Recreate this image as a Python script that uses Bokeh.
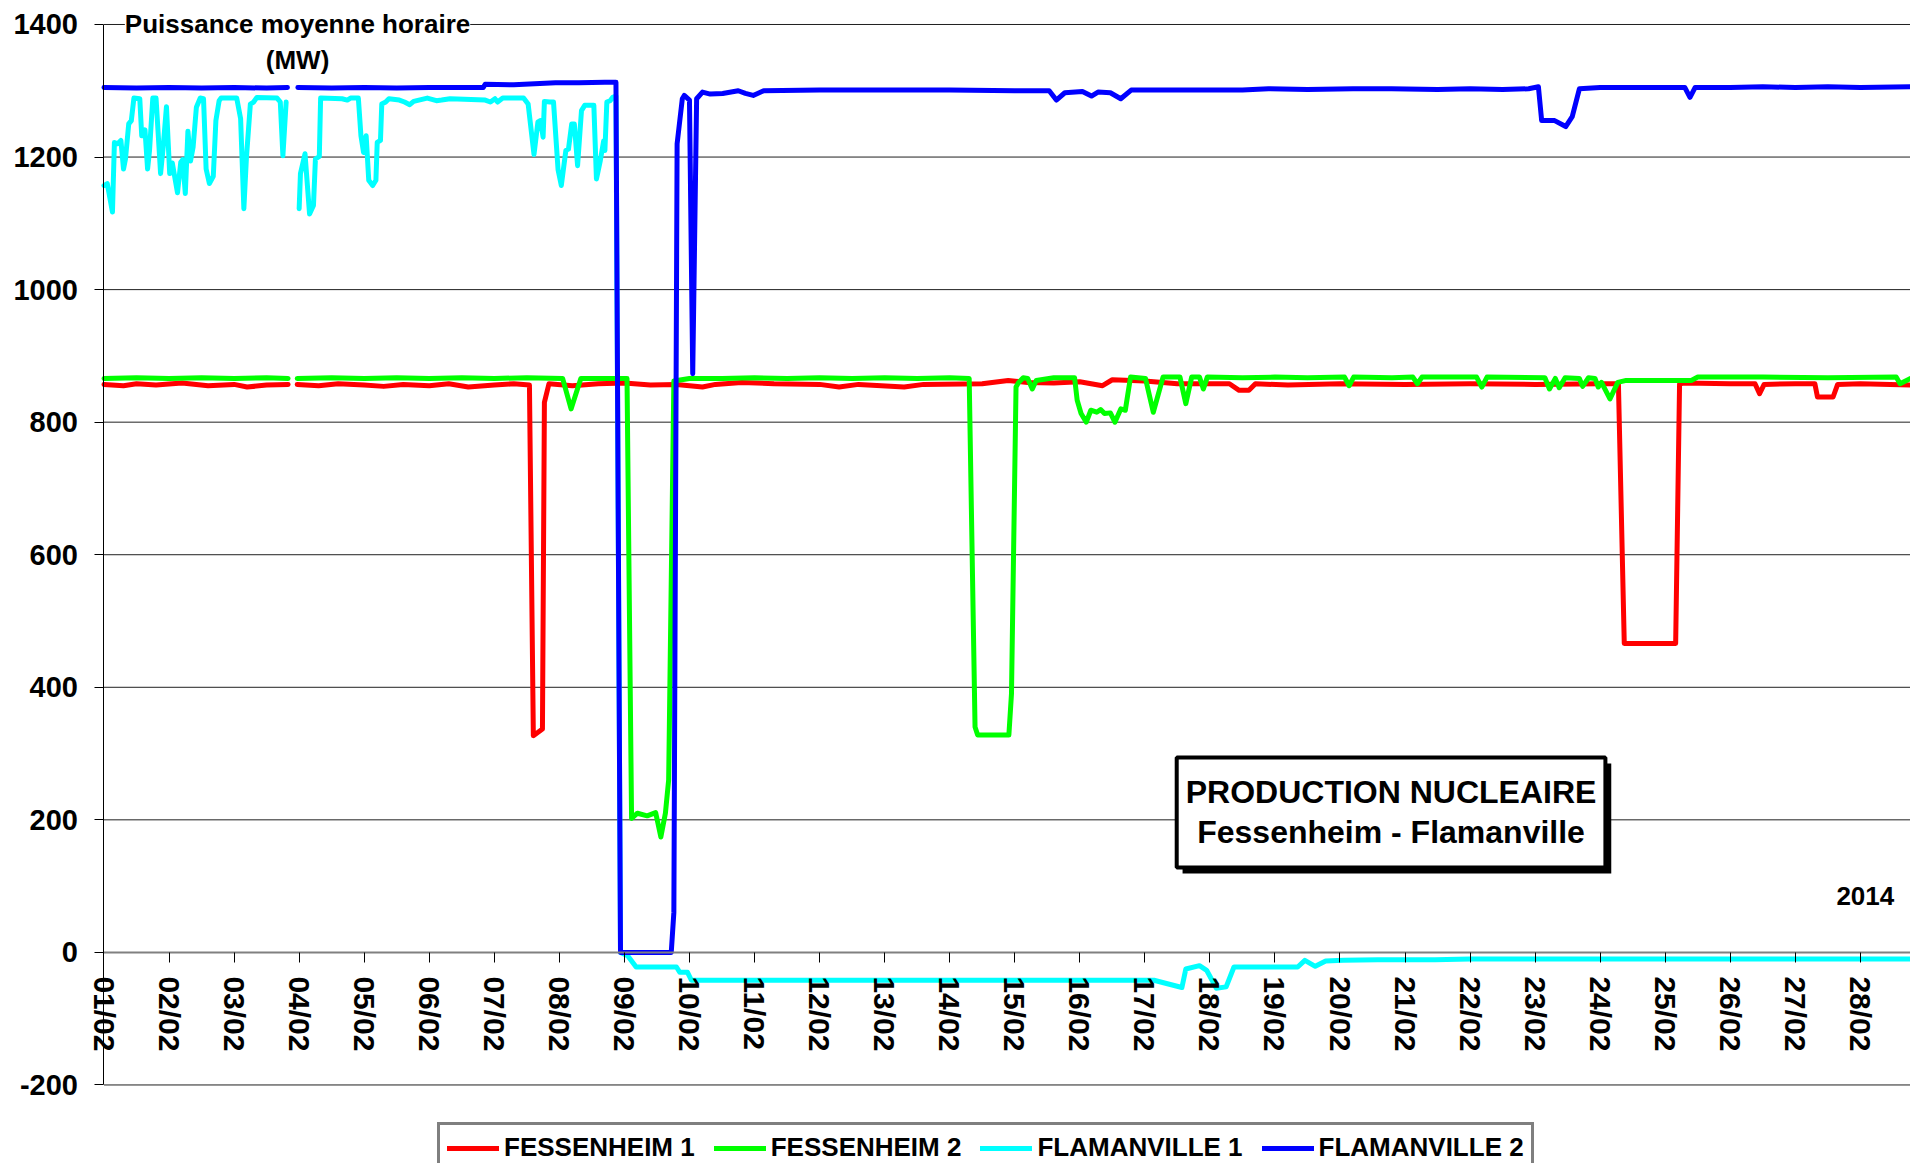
import numpy as np
from bokeh.plotting import figure
from bokeh.models import (Range1d, FixedTicker, LinearAxis, Label, BoxAnnotation,
                          Legend, LegendItem)
from bokeh.embed import file_html
from bokeh.resources import INLINE

nan = float("nan")

# ---------------- data (time in days since 01/02 00:00, power in MW) ----------------
x_labels = ["%02d/02" % d for d in range(1, 29)]
y_ticks = [-200, 0, 200, 400, 600, 800, 1000, 1200, 1400]
y_labels = ["-200", "0", "200", "400", "600", "800", "1000", "1200", "1400"]

f1_t = [0.0, 0.3, 0.5, 0.8, 1.2, 1.6, 2.0, 2.2, 2.5, 2.83,
        2.90, 2.97, 3.3, 3.6, 4.0, 4.3, 4.6, 5.0, 5.3, 5.6,
        6.0, 6.3, 6.54, 6.60, 6.74, 6.77, 6.84, 7.2, 7.6, 8.0,
        8.4, 8.8, 9.2, 9.4, 9.8, 10.3, 11.0, 11.3, 11.6, 12.3,
        12.6, 13.5, 13.9, 14.2, 14.6, 15.0, 15.35, 15.5, 16.0, 16.5,
        17.3, 17.45, 17.6, 17.7, 18.2, 19.0, 20.0, 21.0, 22.0, 23.0,
        23.28, 23.37, 24.16, 24.22, 24.3, 25.0, 25.38, 25.45, 25.52, 26.0,
        26.3, 26.34, 26.58, 26.65, 27.0, 27.77]
f1_v = [857, 855, 858, 856, 859, 855, 857, 853, 856, 857,
        nan, 857, 855, 858, 856, 854, 857, 855, 858, 853,
        856, 858, 856, 327, 337, 830, 858, 855, 858, 859,
        856, 857, 853, 857, 860, 858, 857, 853, 857, 853,
        857, 858, 863, 860, 859, 861, 855, 864, 862, 858,
        858, 848, 848, 858, 856, 858, 857, 858, 857, 858,
        858, 466, 466, 858, 859, 858, 858, 843, 857, 858,
        858, 838, 838, 857, 858, 856]

f2_t = [0.0, 0.5, 1.0, 1.5, 2.0, 2.5, 2.83, 2.90, 2.97, 3.5,
        4.0, 4.5, 5.0, 5.5, 6.0, 6.5, 7.05, 7.18, 7.33, 7.6,
        8.04, 8.11, 8.2, 8.35, 8.48, 8.56, 8.63, 8.68, 8.76, 9.0,
        9.5, 10.0, 10.5, 11.0, 11.5, 12.0, 12.5, 13.0, 13.3, 13.39,
        13.43, 13.91, 13.95, 14.02, 14.06, 14.13, 14.2, 14.27, 14.33, 14.6,
        14.92, 14.96, 15.02, 15.1, 15.17, 15.26, 15.32, 15.38, 15.47, 15.54,
        15.63, 15.70, 15.78, 16.01, 16.13, 16.28, 16.54, 16.63, 16.72, 16.84,
        16.90, 16.96, 17.5, 18.0, 18.5, 19.07, 19.14, 19.21, 19.8, 20.12,
        20.19, 20.26, 21.1, 21.18, 21.26, 22.15, 22.22, 22.31, 22.37, 22.46,
        22.68, 22.73, 22.82, 22.92, 22.97, 23.02, 23.15, 23.27, 23.4, 24.0,
        24.4, 24.5, 25.5, 26.5, 27.55, 27.61, 27.77]
f2_v = [866, 867, 866, 867, 866, 867, 866, nan, 866, 867,
        866, 867, 866, 867, 866, 867, 866, 820, 866, 866,
        866, 202, 210, 206, 211, 174, 210, 260, 862, 866,
        866, 867, 866, 867, 866, 867, 866, 867, 866, 340,
        328, 328, 390, 853, 860, 867, 866, 850, 863, 867,
        867, 833, 813, 800, 818, 815, 819, 813, 814, 800,
        820, 818, 868, 866, 815, 868, 868, 828, 868, 868,
        850, 868, 867, 868, 867, 868, 855, 868, 867, 868,
        858, 868, 868, 853, 868, 867, 850, 866, 852, 867,
        866, 854, 867, 866, 853, 860, 835, 860, 863, 863,
        863, 868, 868, 867, 868, 858, 866]

fl1_t = [0.0, 0.05, 0.13, 0.16, 0.21, 0.26, 0.30, 0.33, 0.38, 0.42,
         0.46, 0.55, 0.58, 0.63, 0.67, 0.70, 0.75, 0.80, 0.87, 0.91,
         0.96, 1.01, 1.05, 1.13, 1.18, 1.21, 1.25, 1.29, 1.33, 1.37,
         1.42, 1.48, 1.53, 1.57, 1.62, 1.68, 1.72, 1.77, 1.80, 2.04,
         2.10, 2.15, 2.19, 2.25, 2.30, 2.35, 2.66, 2.71, 2.75, 2.80,
         2.90, 3.00, 3.02, 3.09, 3.16, 3.22, 3.25, 3.31, 3.33, 3.66,
         3.74, 3.79, 3.91, 3.95, 3.99, 4.03, 4.07, 4.13, 4.18, 4.20,
         4.25, 4.27, 4.33, 4.38, 4.54, 4.62, 4.70, 4.76, 4.84, 4.97,
         5.11, 5.19, 5.32, 5.86, 5.94, 6.01, 6.05, 6.13, 6.45, 6.52,
         6.61, 6.67, 6.71, 6.75, 6.77, 6.85, 6.91, 6.98, 7.03, 7.10,
         7.14, 7.19, 7.23, 7.28, 7.34, 7.39, 7.53, 7.57, 7.63, 7.68,
         7.70, 7.73, 7.78, 7.82, 7.87, 7.94, 8.05, 8.18, 8.80, 8.85,
         8.97, 9.03, 16.14, 16.57, 16.63, 16.84, 16.95, 17.10, 17.25, 17.37,
         18.35, 18.46, 18.62, 18.78, 19.05, 19.58, 20.46, 21.00, 27.77]
fl1_v = [1157, 1160, 1117, 1222, 1220, 1225, 1182, 1197, 1250, 1255,
         1289, 1288, 1232, 1241, 1182, 1210, 1289, 1289, 1175, 1215,
         1276, 1175, 1191, 1146, 1192, 1196, 1145, 1239, 1194, 1215,
         1275, 1289, 1288, 1182, 1160, 1171, 1255, 1285, 1289, 1289,
         1258, 1122, 1200, 1280, 1283, 1290, 1289, 1283, 1202, 1283,
         nan, 1122, 1175, 1205, 1114, 1127, 1197, 1201, 1289, 1288,
         1286, 1289, 1289, 1232, 1207, 1232, 1165, 1157, 1165, 1222,
         1225, 1280, 1283, 1288, 1286, 1283, 1279, 1284, 1286, 1289,
         1285, 1286, 1288, 1286, 1283, 1288, 1283, 1289, 1289, 1280,
         1204, 1253, 1255, 1230, 1284, 1283, 1283, 1181, 1157, 1210,
         1212, 1250, 1250, 1187, 1270, 1278, 1278, 1167, 1195, 1224,
         1210, 1283, 1285, 1290, 1292, 0, -5, -22, -22, -30,
         -30, -42, -42, -53, -25, -20, -27, -54, -52, -22,
         -22, -12, -21, -13, -12, -11, -11, -10, -10]

fl2_t = [0.0, 0.5, 1.0, 1.5, 2.0, 2.5, 2.82, 2.90, 2.98, 3.5,
         4.0, 4.5, 5.0, 5.5, 5.83, 5.86, 6.3, 6.94, 7.3, 7.7,
         7.87, 7.94, 8.72, 8.76, 8.81, 8.89, 8.92, 9.0, 9.05, 9.11,
         9.2, 9.32, 9.51, 9.75, 9.86, 9.98, 10.14, 11.0, 12.0, 13.0,
         14.0, 14.53, 14.64, 14.77, 15.04, 15.18, 15.28, 15.47, 15.63, 15.79,
         16.5, 17.5, 17.9, 18.5, 19.2, 19.79, 20.5, 21.0, 21.5, 21.9,
         22.05, 22.1, 22.3, 22.47, 22.57, 22.68, 23.0, 23.5, 24.0, 24.3,
         24.38, 24.46, 25.0, 25.5, 26.0, 26.5, 27.0, 27.77]
fl2_v = [1305, 1304, 1305, 1304, 1305, 1304, 1305, nan, 1305, 1304,
         1305, 1304, 1305, 1305, 1305, 1310, 1309, 1312, 1312, 1313,
         1313, 0, 0, 60, 1220, 1288, 1293, 1286, 873, 1288,
         1298, 1295, 1296, 1300, 1296, 1293, 1300, 1301, 1301, 1301,
         1300, 1300, 1286, 1297, 1299, 1292, 1298, 1297, 1288, 1301,
         1301, 1301, 1303, 1302, 1303, 1303, 1302, 1303, 1302, 1303,
         1306, 1255, 1255, 1246, 1261, 1303, 1305, 1305, 1305, 1305,
         1290, 1305, 1305, 1306, 1305, 1306, 1305, 1306]

series_names = ["FESSENHEIM 1", "FESSENHEIM 2", "FLAMANVILLE 1", "FLAMANVILLE 2"]
series_colors = ["#FF0000", "#00FF00", "#00FFFF", "#0000FF"]

FONT = "Liberation Sans"
X0, X1 = -1.591, 27.77
Y0, Y1 = -318.5, 1436.2

p = figure(width=1910, height=1163, output_backend="svg", toolbar_location=None,
           x_range=Range1d(X0, X1), y_range=Range1d(Y0, Y1),
           x_axis_location=None, y_axis_location=None,
           min_border_left=0, min_border_right=0, min_border_top=0, min_border_bottom=0)
p.outline_line_color = None
p.background_fill_color = "white"
p.border_fill_color = "white"
p.grid.visible = False

# horizontal gridlines, limited to the plotting area (x >= 0)
grid_vals = [t for t in y_ticks if t != 0]
p.segment(x0=0, x1=X1, y0=grid_vals, y1=grid_vals,
          line_color="#202020", line_width=1, level="underlay")

# y axis drawn at x = 0
ya = LinearAxis(fixed_location=0, bounds=(-200, 1400),
                ticker=FixedTicker(ticks=y_ticks),
                major_label_overrides={t: lab for t, lab in zip(y_ticks, y_labels)},
                major_tick_out=9, major_tick_in=0, minor_tick_out=0, minor_tick_in=0,
                axis_line_color="black", axis_line_width=1,
                major_tick_line_color="black", major_label_standoff=17,
                major_label_text_font=FONT, major_label_text_font_style="bold",
                major_label_text_font_size="29px", major_label_text_color="black")
p.add_layout(ya, "left")

# x axis drawn at y = 0
xa = LinearAxis(fixed_location=0, bounds=(0, X1),
                ticker=FixedTicker(ticks=list(range(len(x_labels)))),
                major_label_overrides={i: lab for i, lab in enumerate(x_labels)},
                major_label_orientation="vertical",
                major_tick_out=10, major_tick_in=0,
                minor_tick_out=0, minor_tick_in=0,
                axis_line_color="#808080", axis_line_width=2,
                major_tick_line_color="black",
                major_label_standoff=14,
                major_label_text_font=FONT,
                major_label_text_font_style="bold",
                major_label_text_font_size="30px",
                major_label_text_color="black")
p.add_layout(xa, "below")

# lines
renderers = []
for t, v, c in [(f1_t, f1_v, series_colors[0]), (f2_t, f2_v, series_colors[1]),
                (fl1_t, fl1_v, series_colors[2]), (fl2_t, fl2_v, series_colors[3])]:
    r = p.line(np.array(t, dtype=float), np.array(v, dtype=float), line_color=c,
               line_width=5, line_join="round", line_cap="round")
    renderers.append(r)

# legend
legend = Legend(items=[LegendItem(label=n, renderers=[r]) for n, r in zip(series_names, renderers)],
                orientation="horizontal", location=(437, -10),
                glyph_width=52, glyph_height=26, label_height=26,
                label_standoff=5, spacing=19, padding=7, margin=0,
                label_text_font=FONT, label_text_font_style="bold",
                label_text_font_size="26px", label_text_color="black",
                border_line_color="#7f7f7f", border_line_width=3, border_line_alpha=1.0,
                background_fill_color="white", background_fill_alpha=1.0)
p.add_layout(legend, "center")

# y-axis title
p.add_layout(Label(x=2.975, y=1400, text="Puissance moyenne horaire", text_align="center",
                   text_baseline="middle", text_font=FONT, text_font_style="bold",
                   text_font_size="26px", text_color="black", background_fill_color="white"))
p.add_layout(Label(x=2.975, y=1345.7, text="(MW)", text_align="center",
                   text_baseline="middle", text_font=FONT, text_font_style="bold",
                   text_font_size="26px", text_color="black"))

# title box with shadow
p.add_layout(BoxAnnotation(left=16.58, right=23.17, top=285, bottom=119,
                           fill_color="black", fill_alpha=1.0, line_color=None))
p.add_layout(BoxAnnotation(left=16.49, right=23.08, top=294, bottom=128,
                           fill_color="white", fill_alpha=1.0, line_color="black",
                           line_alpha=1.0, line_width=4))
p.add_layout(Label(x=19.785, y=241.3, text="PRODUCTION NUCLEAIRE", text_align="center",
                   text_baseline="middle", text_font=FONT, text_font_style="bold",
                   text_font_size="32px", text_color="black"))
p.add_layout(Label(x=19.785, y=182.4, text="Fessenheim - Flamanville", text_align="center",
                   text_baseline="middle", text_font=FONT, text_font_style="bold",
                   text_font_size="32px", text_color="black"))

p.add_layout(Label(x=27.52, y=84.4, text="2014", text_align="right",
                   text_baseline="middle", text_font=FONT, text_font_style="bold",
                   text_font_size="26px", text_color="black"))

open("out.html", "w").write(file_html(p, INLINE))
